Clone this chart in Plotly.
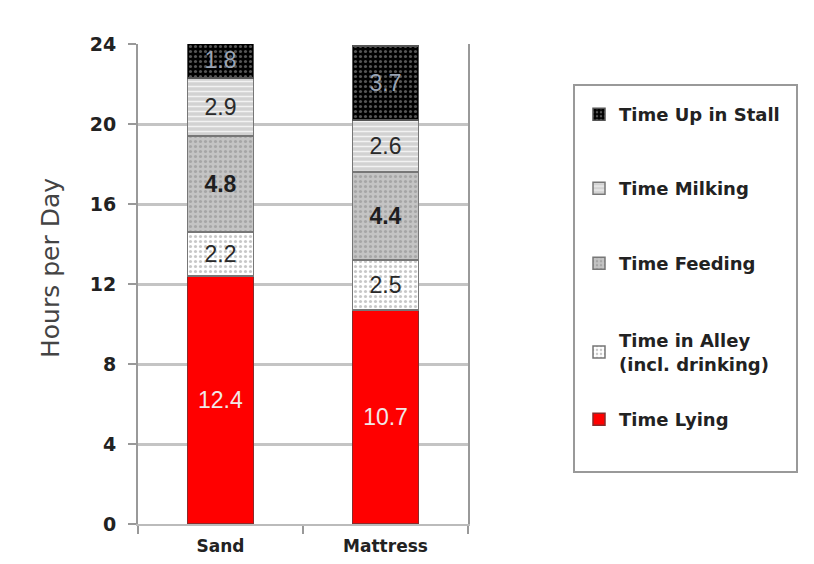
import plotly.graph_objects as go

categories = ["Sand", "Mattress"]
series_names = ["Time Lying", "Time in Alley<br>(incl. drinking)", "Time Feeding", "Time Milking", "Time Up in Stall"]
lying = [12.4, 10.7]
alley = [2.2, 2.5]
feeding = [4.8, 4.4]
milking = [2.9, 2.6]
up_in_stall = [1.8, 3.7]
y_ticks = [0, 4, 8, 12, 16, 20, 24]

series_values = [lying, alley, feeding, milking, up_in_stall]
styles = [
    dict(bg="#ff0000", fg="#ff0000", shape="", txt="#f0e8e8", line="#8a2a2a", w="normal"),
    dict(bg="#ffffff", fg="#c8c8c8", shape=".", txt="#2a2a2a", line="#777777", w="normal"),
    dict(bg="#c4c4c4", fg="#a6a6a6", shape=".", txt="#1e1e1e", line="#777777", w="bold"),
    dict(bg="#d2d2d2", fg="#f2f2f2", shape="-", txt="#2a2a2a", line="#777777", w="normal"),
    dict(bg="#000000", fg="#555555", shape=".", txt="#9aa4b4", line="#555555", w="normal"),
]
legend_ids = ["legend5", "legend4", "legend3", "legend2", "legend"]
# screen y of the top of each legend entry (Lying, Alley, Feeding, Milking, Up in Stall)
legend_tops = [401, 322, 245, 170, 96]

PLOT_L, PLOT_T, PLOT_W, PLOT_H = 138, 44, 330, 480


def px_x(x):
    return (x - PLOT_L) / PLOT_W


def px_y(y):
    return (PLOT_T + PLOT_H - y) / PLOT_H


fig = go.Figure()
for i, (name, vals, st) in enumerate(zip(series_names, series_values, styles)):
    fig.add_trace(go.Bar(
        x=categories, y=vals, name=name,
        legend=legend_ids[i], showlegend=True,
        text=[f"{v:.1f}" for v in vals],
        textposition="inside", insidetextanchor="middle",
        textangle=0,
        textfont=dict(family="Liberation Sans, Arial", size=23, color=st["txt"], weight=st["w"]),
        constraintext="none",
        marker=dict(
            color=st["bg"],
            line=dict(color=st["line"], width=1.5),
            pattern=dict(shape=st["shape"], bgcolor=st["bg"], fgcolor=st["fg"],
                         size=5, solidity=0.3, fillmode="replace"),
        ),
    ))

legend_style = dict(
    xanchor="left", yanchor="top", visible=True,
    font=dict(family="DejaVu Sans", size=18, color="#222222", weight="bold"),
    bgcolor="rgba(0,0,0,0)", borderwidth=0, itemclick=False, itemdoubleclick=False,
)
legend_layout = {}
for lid, top in zip(legend_ids, legend_tops):
    legend_layout[lid] = dict(x=px_x(579), y=px_y(top), **legend_style)

fig.update_layout(
    barmode="stack",
    bargap=0.6,
    showlegend=True,
    width=806, height=556,
    margin=dict(l=130, r=346, t=36, b=40, autoexpand=False),
    paper_bgcolor="white", plot_bgcolor="white",
    font=dict(family="DejaVu Sans", color="#222222"),
    uniformtext=dict(mode=False),
    shapes=[dict(type="rect", xref="paper", yref="paper",
                 x0=px_x(574), x1=px_x(797), y0=px_y(472), y1=px_y(85),
                 line=dict(color="#999999", width=2), fillcolor="rgba(0,0,0,0)", layer="below")],
    annotations=[dict(text="Hours per Day", textangle=-90, xref="paper", yref="paper",
                      x=px_x(50), y=px_y(268), xanchor="center", yanchor="middle",
                      showarrow=False, font=dict(family="DejaVu Sans", size=25, color="#444444"))],
    **legend_layout,
)

fig.update_yaxes(
    range=[0, 24], tickvals=y_ticks,
    tickfont=dict(family="DejaVu Sans", size=19, color="#222222", weight="bold"),
    ticks="outside", ticklen=8, tickcolor="#999999", tickwidth=2,
    ticklabelstandoff=8, automargin=False,
    showline=True, linecolor="#999999", linewidth=2, mirror=True,
    showgrid=True, gridcolor="#c4c4c4", gridwidth=2.5,
    zeroline=False,
)
fig.update_xaxes(
    tickfont=dict(family="DejaVu Sans", size=17, color="#222222", weight="bold"),
    ticks="outside", tickson="boundaries", ticklen=8, tickcolor="#999999", tickwidth=2,
    ticklabelstandoff=6, automargin=False,
    showline=True, linecolor="#bbbbbb", linewidth=2,
    showgrid=False,
)

fig.write_html("out.html")
